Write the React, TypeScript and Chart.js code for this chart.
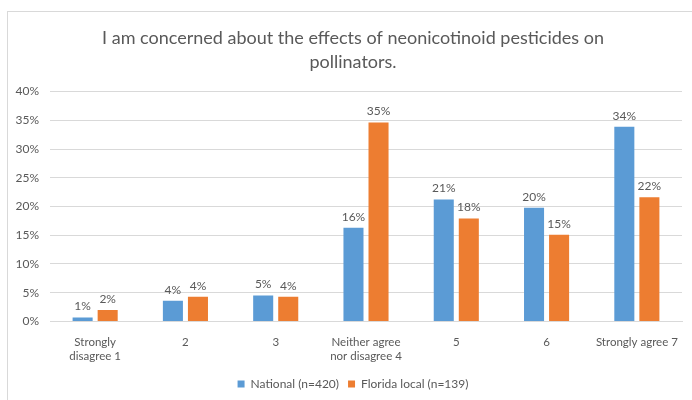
import React, { useEffect, useRef } from "react";
import { Chart, registerables } from "chart.js";

Chart.register(...registerables);

const categories: (string | string[])[] = [
  ["Strongly", "disagree 1"],
  "2",
  "3",
  ["Neither agree", "nor disagree 4"],
  "5",
  "6",
  "Strongly agree 7",
];
const nationalValues = [0.7, 3.6, 4.5, 16.3, 21.2, 19.8, 33.9];
const nationalLabels = ["1%", "4%", "5%", "16%", "21%", "20%", "34%"];
const floridaValues = [2.0, 4.3, 4.3, 34.6, 17.9, 15.1, 21.6];
const floridaLabels = ["2%", "4%", "4%", "35%", "18%", "15%", "22%"];
const yTicks = [0, 5, 10, 15, 20, 25, 30, 35, 40];
const titleLines = [
  "I am concerned about the effects of neonicotinoid pesticides on",
  "pollinators.",
];

const FONT = "Lato, 'Open Sans', sans-serif";
const TEXT = "#595959";

const barLabels = {
  id: "barLabels",
  afterLayout(chart: any) {
    // let the y tick labels extend left of the narrowed scale box
    chart.scales.y.left = 0;
  },
  afterDatasetsDraw(chart: any) {
    const ctx = chart.ctx;
    const all = [nationalLabels, floridaLabels];
    ctx.save();
    ctx.font = `12px ${FONT}`;
    ctx.fillStyle = TEXT;
    ctx.textAlign = "center";
    ctx.textBaseline = "bottom";
    chart.data.datasets.forEach((_: any, di: number) => {
      const meta = chart.getDatasetMeta(di);
      meta.data.forEach((bar: any, i: number) => {
        ctx.fillText(all[di][i], bar.x, bar.y - 5);
      });
    });
    ctx.restore();
  },
};

export default function App() {
  const ref = useRef<HTMLCanvasElement | null>(null);
  useEffect(() => {
    if (!ref.current) return;
    const chart = new Chart(ref.current, {
      type: "bar",
      data: {
        labels: categories,
        datasets: [
          {
            label: "National (n=420)",
            data: nationalValues,
            backgroundColor: "#5B9BD5",
            categoryPercentage: 0.555,
            barPercentage: 0.8,
          },
          {
            label: "Florida local (n=139)",
            data: floridaValues,
            backgroundColor: "#ED7D31",
            categoryPercentage: 0.555,
            barPercentage: 0.8,
          },
        ],
      },
      options: {
        responsive: false,
        animation: false,
        layout: { padding: { left: 24, right: 10, top: 0, bottom: 0 } },
        scales: {
          x: {
            grid: { display: false },
            border: { color: "#D9D9D9" },
            ticks: {
              color: TEXT,
              font: { family: FONT, size: 11.5, lineHeight: 1.2 },
              maxRotation: 0,
              autoSkip: false,
              padding: 6,
            },
          },
          y: {
            min: 0,
            max: 40,
            afterBuildTicks(scale: any) {
              scale.ticks = yTicks.map((v) => ({ value: v }));
            },
            afterFit(scale: any) {
              scale.width = 26;
            },
            grid: { color: "#D9D9D9", drawTicks: false },
            border: { display: false },
            ticks: {
              color: TEXT,
              font: { family: FONT, size: 12 },
              padding: 11,
              callback: (v: any) => v + "%",
            },
          },
        },
        plugins: {
          title: {
            display: true,
            text: titleLines,
            color: TEXT,
            font: { family: FONT, size: 18, weight: "normal", lineHeight: 1.35 },
            padding: { top: 26, bottom: 17 },
          },
          legend: {
            position: "bottom",
            labels: {
              color: TEXT,
              font: { family: FONT, size: 12 },
              boxWidth: 7,
              boxHeight: 7,
              padding: 9,
            },
          },
          tooltip: { enabled: false },
        },
      },
      plugins: [barLabels],
    });
    return () => chart.destroy();
  }, []);
  return (
    <div style={{ position: "fixed", left: 0, top: 0, width: 692, height: 400, background: "#fff" }}>
      <div
        style={{
          position: "absolute",
          left: 7,
          top: 11,
          right: 0,
          bottom: 0,
          borderLeft: "1px solid #D9D9D9",
          borderTop: "1px solid #D9D9D9",
        }}
      />
      <canvas ref={ref} width={692} height={400} style={{ position: "absolute", left: 0, top: 0 }} />
    </div>
  );
}
